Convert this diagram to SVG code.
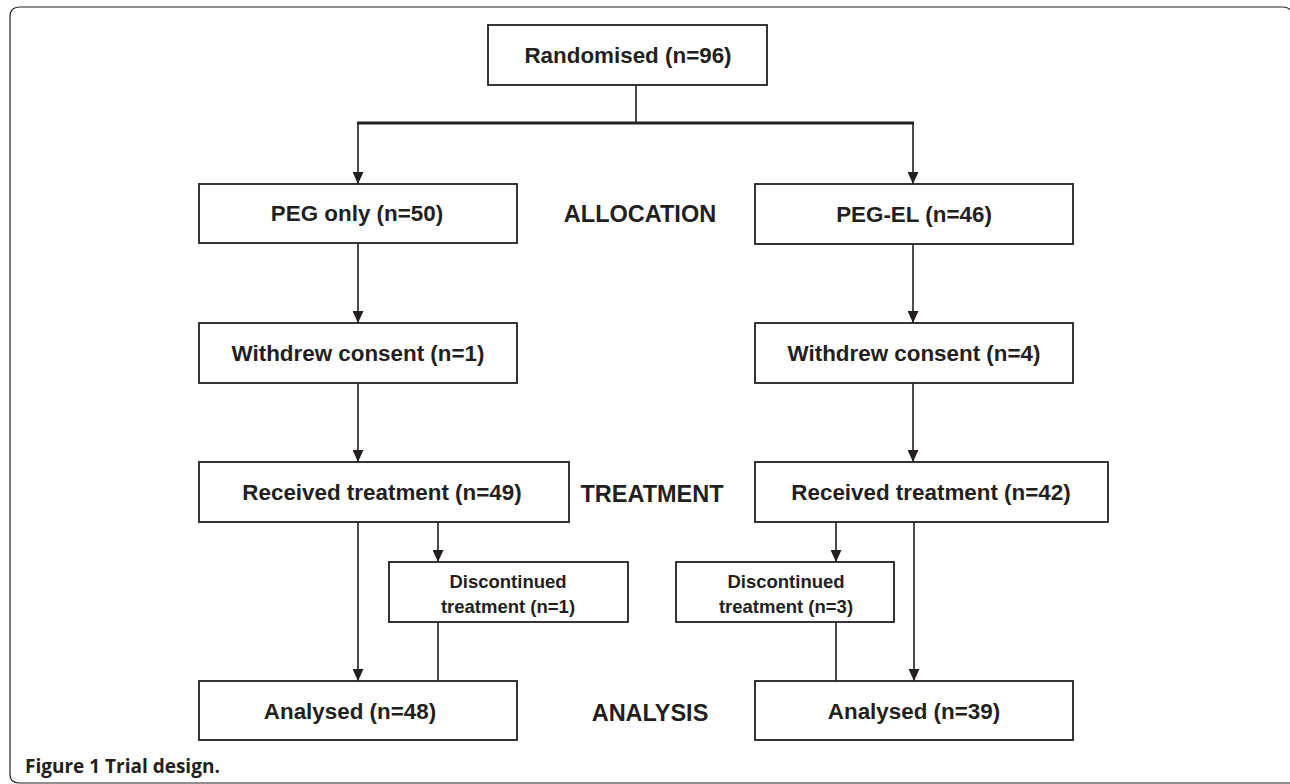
<svg xmlns="http://www.w3.org/2000/svg" width="1290" height="784" viewBox="0 0 1290 784">
<style>
.box{fill:#fff;stroke:#231f20;stroke-width:1.8}
.t{font-family:"Liberation Sans",Arial,Helvetica,sans-serif;font-weight:bold;font-size:22.4px;fill:#231f20;text-anchor:middle}
.s{font-size:18.5px}
.lab{font-size:23.5px}
.c{fill:none;stroke:#231f20;stroke-width:1.6}
.cap{font-family:"Open Sans","Liberation Sans",sans-serif;font-weight:bold;font-size:19px;fill:#231f20}
</style>
<defs>
<marker id="ah" markerUnits="userSpaceOnUse" markerWidth="12" markerHeight="11" viewBox="0 0 12 11" refX="12" refY="5.5" orient="auto">
<path d="M0,0 L12,5.5 L0,11 Z" fill="#231f20"/>
</marker>
</defs>
<path d="M1290,10 Q1288,7 1283,7 L20,7 Q10,7 10,17 L10,774 Q10,783 19,783 L1290,783" fill="none" stroke="#231f20" stroke-width="1.2"/>
<g id="connectors">
<line class="c" x1="636" y1="85" x2="636" y2="123"/>
<line x1="357" y1="123" x2="914" y2="123" stroke="#231f20" stroke-width="3"/>
<path class="c" d="M358,123 V184" marker-end="url(#ah)"/>
<path class="c" d="M913,123 V184" marker-end="url(#ah)"/>
<path class="c" d="M358,243 V323" marker-end="url(#ah)"/>
<path class="c" d="M913,244 V323" marker-end="url(#ah)"/>
<path class="c" d="M358,383 V462" marker-end="url(#ah)"/>
<path class="c" d="M913,383 V462" marker-end="url(#ah)"/>
<path class="c" d="M358,522 V681" marker-end="url(#ah)"/>
<path class="c" d="M438,522 V562" marker-end="url(#ah)"/>
<line class="c" x1="438" y1="622" x2="438" y2="681"/>
<path class="c" d="M836,522 V562" marker-end="url(#ah)"/>
<line class="c" x1="836" y1="622" x2="836" y2="681"/>
<path class="c" d="M914,522 V681" marker-end="url(#ah)"/>
</g>
<g id="randomised"><rect class="box" x="488" y="25" width="279" height="60"/><text class="t" x="628" y="63">Randomised (n=96)</text></g>
<g id="peg-only"><rect class="box" x="199" y="184" width="318" height="59"/><text class="t" x="357" y="221">PEG only (n=50)</text></g>
<g id="allocation"><text class="t lab" x="640" y="222">ALLOCATION</text></g>
<g id="peg-el"><rect class="box" x="755" y="184" width="318" height="60"/><text class="t" x="914" y="222">PEG-EL (n=46)</text></g>
<g id="withdrew-1"><rect class="box" x="199" y="323" width="318" height="60"/><text class="t" x="358" y="361">Withdrew consent (n=1)</text></g>
<g id="withdrew-4"><rect class="box" x="755" y="323" width="318" height="60"/><text class="t" x="914" y="361">Withdrew consent (n=4)</text></g>
<g id="received-49"><rect class="box" x="199" y="462" width="370" height="60"/><text class="t" x="382" y="500">Received treatment (n=49)</text></g>
<g id="treatment"><text class="t lab" x="652" y="502">TREATMENT</text></g>
<g id="received-42"><rect class="box" x="755" y="462" width="353" height="60"/><text class="t" x="931" y="500">Received treatment (n=42)</text></g>
<g id="discontinued-1"><rect class="box" x="389" y="562" width="239" height="60"/><text class="t s" x="508" y="588">Discontinued</text><text class="t s" x="508" y="613">treatment (n=1)</text></g>
<g id="discontinued-3"><rect class="box" x="676" y="562" width="218" height="60"/><text class="t s" x="786" y="588">Discontinued</text><text class="t s" x="786" y="613">treatment (n=3)</text></g>
<g id="analysed-48"><rect class="box" x="199" y="681" width="318" height="59"/><text class="t" x="350" y="719">Analysed (n=48)</text></g>
<g id="analysis"><text class="t lab" x="650" y="721">ANALYSIS</text></g>
<g id="analysed-39"><rect class="box" x="755" y="681" width="318" height="59"/><text class="t" x="914" y="719">Analysed (n=39)</text></g>
<text class="cap" x="25" y="773">Figure 1 Trial design.</text>
</svg>
